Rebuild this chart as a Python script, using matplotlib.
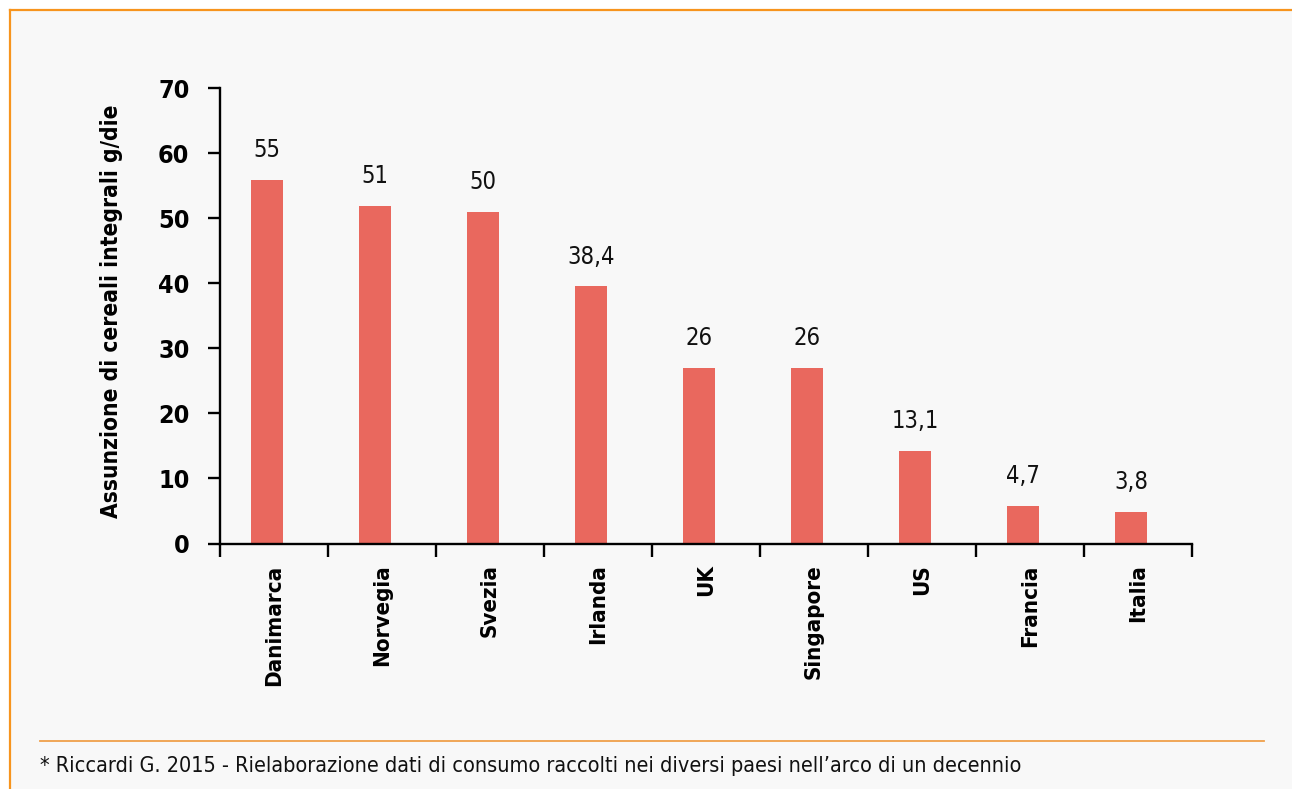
import matplotlib
matplotlib.use("Agg")
import matplotlib.pyplot as plt
from matplotlib.lines import Line2D
from matplotlib.patches import Rectangle
import numpy as np

# data
paesi = ["Danimarca", "Norvegia", "Svezia", "Irlanda", "UK",
         "Singapore", "US", "Francia", "Italia"]
valori = ["55", "51", "50", "38,4", "26", "26", "13,1", "4,7", "3,8"]
# bar heights as drawn in the original (slightly above the printed values)
altezze = [55.9, 51.9, 51.0, 39.5, 27.0, 27.0, 14.2, 5.8, 4.8]
yticks = [0, 10, 20, 30, 40, 50, 60, 70]

plt.rcParams['font.family'] = ['DejaVu Sans']
plt.rcParams['font.stretch'] = 'condensed'

orange = '#f7941d'
bar_col = '#e9685e'

fig = plt.figure(figsize=(12.92, 7.89), dpi=100, facecolor='white')

# panel background and frame
fig.patches.append(Rectangle((10/1292, 0), 1, 1 - 10/789, transform=fig.transFigure,
                             facecolor='#f8f8f8', edgecolor='none', zorder=-5))
fig.lines.append(Line2D([10/1292, 1], [1 - 10/789, 1 - 10/789], transform=fig.transFigure,
                        color=orange, lw=1.6, zorder=5))
fig.lines.append(Line2D([10/1292, 10/1292], [0, 1 - 10/789], transform=fig.transFigure,
                        color=orange, lw=1.6, zorder=5))
fig.lines.append(Line2D([40/1292, 1264/1292], [48/789, 48/789], transform=fig.transFigure,
                        color='#f0a04b', lw=1.3, zorder=5))

ax = fig.add_axes([220/1292, 245.5/789, 972/1292, 455.5/789])
ax.patch.set_visible(False)
ax.set_zorder(2)

x = np.arange(len(paesi))
shift = 0.065
ax.bar(x - shift, altezze, width=0.288, color=bar_col, zorder=2)

for xi, h, t in zip(x, altezze, valori):
    ax.annotate(t, (xi - shift, h), xytext=(0, 16.5), textcoords='offset points',
                ha='center', va='baseline', fontsize=17, color='#111111')

ax.set_xlim(-0.5, len(paesi) - 0.5)
ax.set_ylim(0, 70)

ax.spines['top'].set_visible(False)
ax.spines['right'].set_visible(False)
ax.spines['left'].set_linewidth(1.7)
ax.spines['bottom'].set_linewidth(1.7)

ax.set_yticks(yticks)
ax.set_yticklabels([str(v) for v in yticks], fontsize=18, fontweight='bold')
ax.tick_params(axis='y', length=9, width=1.7, pad=13)

ax.set_xticks(x)
ax.set_xticklabels(paesi, rotation=90, fontsize=16, fontweight='bold')
ax.tick_params(axis='x', which='major', length=0, pad=15)
ax.set_xticks(np.arange(len(paesi) + 1) - 0.5, minor=True)
ax.tick_params(axis='x', which='minor', length=9, width=1.7)

ax.set_ylabel("Assunzione di cereali integrali g/die", fontsize=16.3, fontweight='bold')
ax.yaxis.set_label_coords(-0.100, 0.51)

fig.text(40/1292, 17/789,
         "* Riccardi G. 2015 - Rielaborazione dati di consumo raccolti nei diversi paesi nell\u2019arco di un decennio",
         fontsize=15.5, color='#111111', ha='left', va='baseline')

fig.savefig("out.png", dpi=100, facecolor=fig.get_facecolor())
